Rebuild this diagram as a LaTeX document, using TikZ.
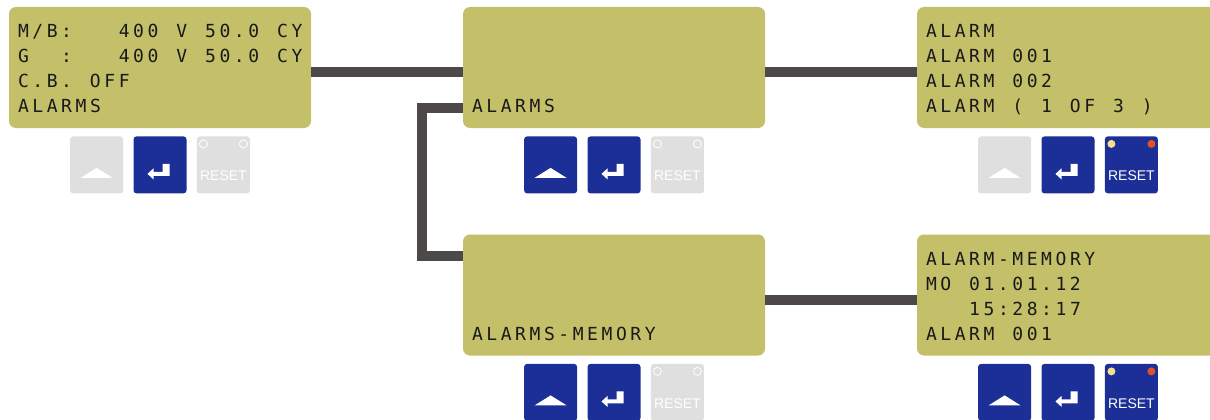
\documentclass[tikz,border=0pt]{standalone}
\usepackage{fontspec}
\setmainfont{Liberation Sans}
\newfontfamily\lcdfont[LetterSpace=19.8]{DejaVu Sans Mono}
\usetikzlibrary{positioning}
\definecolor{lcdgelb}{RGB}{196,191,105}
\definecolor{lcdschrift}{RGB}{25,25,25}
\definecolor{tastenblau}{RGB}{28,47,150}
\definecolor{tastengrau}{RGB}{223,223,223}
\definecolor{liniengrau}{RGB}{77,73,73}
\definecolor{lampegelb}{RGB}{243,224,140}
\definecolor{lamperot}{RGB}{226,82,42}
% Sperrung auch am Wortende
\XeTeXinterchartoks 0 4095 = {\kern3.56pt\relax}
\newcommand\lcdschriftart{\lcdfont\fontsize{18}{25}\selectfont
  \XeTeXinterchartokenstate=1\relax}
% Schrift einmal vorab laden
\AtBeginDocument{\sbox0{\lcdschriftart M}}
\tikzset{
  lcd/.style={rectangle, rounded corners=7pt, fill=lcdgelb,
    minimum width=302pt, minimum height=121pt, inner sep=0pt},
  lcdtext/.style={anchor=base west, inner sep=0pt, text=lcdschrift,
    font=\lcdschriftart},
  taste/.style={rectangle, rounded corners=3pt, minimum width=53pt,
    minimum height=57pt, inner sep=0pt},
  aktiv/.style={taste, fill=tastenblau},
  inaktiv/.style={taste, fill=tastengrau},
  resettext/.style={text=white, font=\fontsize{14}{14}\selectfont,
    text height=44.5pt, text depth=12.5pt},
  verbindung/.style={draw=liniengrau, line width=10pt},
  pics/hoch/.style={code={
    \fill[white] (-16,-13) -- (16,-13) -- (0,-3) -- cycle;}},
  pics/eingabe/.style={code={
    \fill[white] (2.5,1) rectangle (9.5,-11) (-7,-7) rectangle (9.5,-11);
    \fill[white] (-12.5,-9) -- (-6.5,-3.5) -- (-6.5,-14.5) -- cycle;}},
  pics/lampen/.style 2 args={code={
    \path[#1] (-20,21) circle (4pt);
    \path[#2] (20,21) circle (4pt);}}
}
\begin{document}
\begin{tikzpicture}[x=1pt, y=1pt]
\useasboundingbox (0,0) rectangle (1210,-420);
\clip (0,0) rectangle (1210,-420);
% Anzeigen
\node[lcd] (mb) at (160,-67.5) {};
\node[lcd] (al) at (614,-67.5) {};
\node[lcd] (alm) at (1068,-67.5) {};
\node[lcd] (am) at (614,-295) {};
\node[lcd] (amem) at (1068,-295) {};
% Texte der Anzeigen
\foreach \zeile [count=\k] in {M/B:\ \ \ 400 V 50.0 CY, G\ \ :\ \ \ 400 V 50.0 CY, C.B. OFF, ALARMS}
  \node[lcdtext] (mb-\k) at ([shift={(9,{-6-25*\k})}]mb.north west) {\zeile};
\node[lcdtext] (al-4) at ([shift={(9,-106)}]al.north west) {ALARMS};
\foreach \zeile [count=\k] in {ALARM, ALARM 001, ALARM 002, ALARM ( 1 OF 3 )}
  \node[lcdtext] (alm-\k) at ([shift={(9,{-6-25*\k})}]alm.north west) {\zeile};
\node[lcdtext] (am-4) at ([shift={(9,-106)}]am.north west) {ALARMS-MEMORY};
\foreach \zeile [count=\k] in {ALARM-MEMORY, MO 01.01.12, \ \ \ 15:28:17, ALARM 001}
  \node[lcdtext] (amem-\k) at ([shift={(9,{-6-25*\k})}]amem.north west) {\zeile};
% Tasten unter den Anzeigen
\node[aktiv, below=8pt of mb] (mb-enter) {};
\node[inaktiv, left=10pt of mb-enter] (mb-up) {};
\node[inaktiv, resettext, right=10pt of mb-enter] (mb-reset) {RESET};
\node[aktiv, below=8pt of al] (al-enter) {};
\node[aktiv, left=10pt of al-enter] (al-up) {};
\node[inaktiv, resettext, right=10pt of al-enter] (al-reset) {RESET};
\node[aktiv, below=8pt of alm] (alm-enter) {};
\node[inaktiv, left=10pt of alm-enter] (alm-up) {};
\node[aktiv, resettext, right=10pt of alm-enter] (alm-reset) {RESET};
\node[aktiv, below=8pt of am] (am-enter) {};
\node[aktiv, left=10pt of am-enter] (am-up) {};
\node[inaktiv, resettext, right=10pt of am-enter] (am-reset) {RESET};
\node[aktiv, below=8pt of amem] (amem-enter) {};
\node[aktiv, left=10pt of amem-enter] (amem-up) {};
\node[aktiv, resettext, right=10pt of amem-enter] (amem-reset) {RESET};
% Symbole auf den Tasten
\foreach \anz in {mb, al, alm, am, amem} {
  \pic at (\anz-up) {hoch};
  \pic at (\anz-enter) {eingabe};
}
\foreach \anz in {mb, al, am}
  \pic at (\anz-reset) {lampen={draw=white, line width=0.8pt}{draw=white, line width=0.8pt}};
\foreach \anz in {alm, amem}
  \pic at (\anz-reset) {lampen={fill=lampegelb}{fill=lamperot}};
% Verbindungen
\draw[verbindung] ([yshift=-4.5pt]mb.east) -- ([yshift=-4.5pt]al.west);
\draw[verbindung] ([yshift=-4.5pt]al.east) -- ([yshift=-4.5pt]alm.west);
\draw[verbindung] ([yshift=-2pt]al-4.west -| al.west) -- ++(-41,0)
  |- ([yshift=-22pt]am.north west);
\draw[verbindung] ([yshift=-5pt]am.east) -- ([yshift=-5pt]amem.west);
\end{tikzpicture}
\end{document}
